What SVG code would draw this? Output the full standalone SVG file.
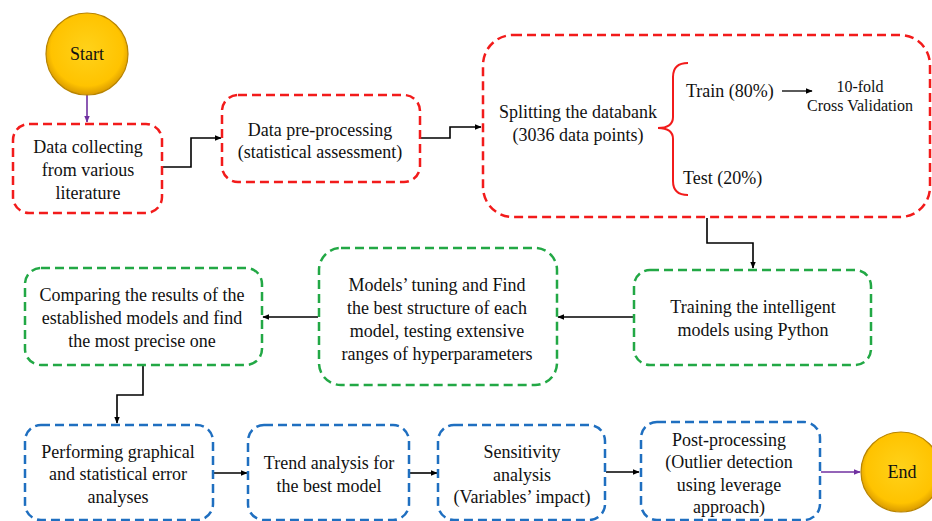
<svg xmlns="http://www.w3.org/2000/svg" width="932" height="521" viewBox="0 0 932 521">
  <defs>
    <radialGradient id="gold" cx="50%" cy="45%" r="55%">
      <stop offset="0" stop-color="#FFD21A"/>
      <stop offset="0.8" stop-color="#FFC300"/>
      <stop offset="1" stop-color="#D99A00"/>
    </radialGradient>
    <marker id="arrow" viewBox="0 0 10 10" refX="9" refY="5" markerWidth="7" markerHeight="7" orient="auto" markerUnits="userSpaceOnUse">
      <path d="M0,1 L10,5 L0,9 z" fill="#000"/>
    </marker>
    <marker id="arrowP" viewBox="0 0 10 10" refX="9" refY="5" markerWidth="7" markerHeight="7" orient="auto" markerUnits="userSpaceOnUse">
      <path d="M0,1 L10,5 L0,9 z" fill="#7030A0"/>
    </marker>
  </defs>
  <style>
    text { font-family: "Liberation Serif", "Times New Roman", serif; font-size: 18px; fill: #111; text-anchor: middle; }
    .small { font-size: 16px; }
    .left { text-anchor: start; }
    .box { fill: #fff; stroke-width: 2.5; stroke-dasharray: 9 5; }
    .red { stroke: #F21B1B; }
    .green { stroke: #22A845; }
    .blue { stroke: #1F6FC0; }
    .circle { fill: url(#gold); stroke: #B88400; stroke-width: 1.2; }
    .conn { fill: none; stroke: #000; stroke-width: 1.6; marker-end: url(#arrow); }
    .connP { fill: none; stroke: #7030A0; stroke-width: 1.6; marker-end: url(#arrowP); }
  </style>

  <rect width="932" height="521" fill="#fff"/>

  <!-- connectors -->
  <g id="connectors">
    <path class="connP" d="M87,94 V122"/>
    <path class="conn" d="M162,167 H191 V138 H221"/>
    <path class="conn" d="M421,138 H450 V127 H481"/>
    <path class="conn" d="M707,218 V243 H753 V268"/>
    <path class="conn" d="M634,317 H558"/>
    <path class="conn" d="M318,317 H263"/>
    <path class="conn" d="M143,365 V395 H117 V423"/>
    <path class="conn" d="M214,473 H247"/>
    <path class="conn" d="M410,473 H437"/>
    <path class="conn" d="M606,472 H639"/>
    <path class="connP" d="M821,472 H860"/>
  </g>

  <g id="start">
    <circle class="circle" cx="87" cy="54" r="41"/>
    <text x="87" y="60">Start</text>
  </g>

  <g id="collect">
    <rect class="box red" x="13" y="124" width="149" height="89" rx="16"/>
    <text x="88" y="153">Data collecting</text>
    <text x="88" y="176">from various</text>
    <text x="88" y="199">literature</text>
  </g>

  <g id="preprocess">
    <rect class="box red" x="222" y="95" width="198" height="87" rx="16"/>
    <text x="320" y="136">Data pre-processing</text>
    <text x="320" y="158">(statistical assessment)</text>
  </g>

  <g id="split">
    <rect class="box red" x="483" y="35" width="447" height="182" rx="30"/>
    <text x="578" y="118">Splitting the databank</text>
    <text x="578" y="141">(3036 data points)</text>
    <path d="M688,63 Q673,63 673,77 V117 Q673,128 658,128 Q673,128 673,139 V181 Q673,195 688,195" fill="none" stroke="#F21B1B" stroke-width="2"/>
    <text class="left" x="686" y="97">Train (80%)</text>
    <text class="left" x="683" y="184">Test (20%)</text>
    <path d="M782,91 H812" fill="none" stroke="#000" stroke-width="1.3" marker-end="url(#arrow)"/>
    <text class="small" x="860" y="92">10-fold</text>
    <text class="small" x="860" y="111">Cross Validation</text>
  </g>

  <g id="training">
    <rect class="box green" x="634" y="270" width="237" height="95" rx="16"/>
    <text x="753" y="313">Training the intelligent</text>
    <text x="753" y="336">models using Python</text>
  </g>

  <g id="tuning">
    <rect class="box green" x="319" y="248" width="238" height="137" rx="22"/>
    <text x="437" y="291">Models’ tuning and Find</text>
    <text x="437" y="314">the best structure of each</text>
    <text x="437" y="337">model, testing extensive</text>
    <text x="437" y="360">ranges of hyperparameters</text>
  </g>

  <g id="compare">
    <rect class="box green" x="25" y="268" width="237" height="97" rx="16"/>
    <text x="142" y="301">Comparing the results of the</text>
    <text x="142" y="324">established models and find</text>
    <text x="142" y="347">the most precise one</text>
  </g>

  <g id="errors">
    <rect class="box blue" x="25" y="425" width="188" height="95" rx="16"/>
    <text x="118" y="458">Performing graphical</text>
    <text x="118" y="480">and statistical error</text>
    <text x="118" y="503">analyses</text>
  </g>

  <g id="trend">
    <rect class="box blue" x="248" y="425" width="161" height="95" rx="16"/>
    <text x="329" y="469">Trend analysis for</text>
    <text x="329" y="492">the best model</text>
  </g>

  <g id="sensitivity">
    <rect class="box blue" x="438" y="425" width="167" height="95" rx="16"/>
    <text x="522" y="458">Sensitivity</text>
    <text x="522" y="481">analysis</text>
    <text x="522" y="503">(Variables’ impact)</text>
  </g>

  <g id="postprocess">
    <rect class="box blue" x="641" y="422" width="179" height="98" rx="16"/>
    <text x="729" y="446">Post-processing</text>
    <text x="729" y="468">(Outlier detection</text>
    <text x="729" y="491">using leverage</text>
    <text x="729" y="513">approach)</text>
  </g>

  <g id="end">
    <circle class="circle" cx="901" cy="472" r="40"/>
    <text x="902" y="478">End</text>
  </g>
</svg>
